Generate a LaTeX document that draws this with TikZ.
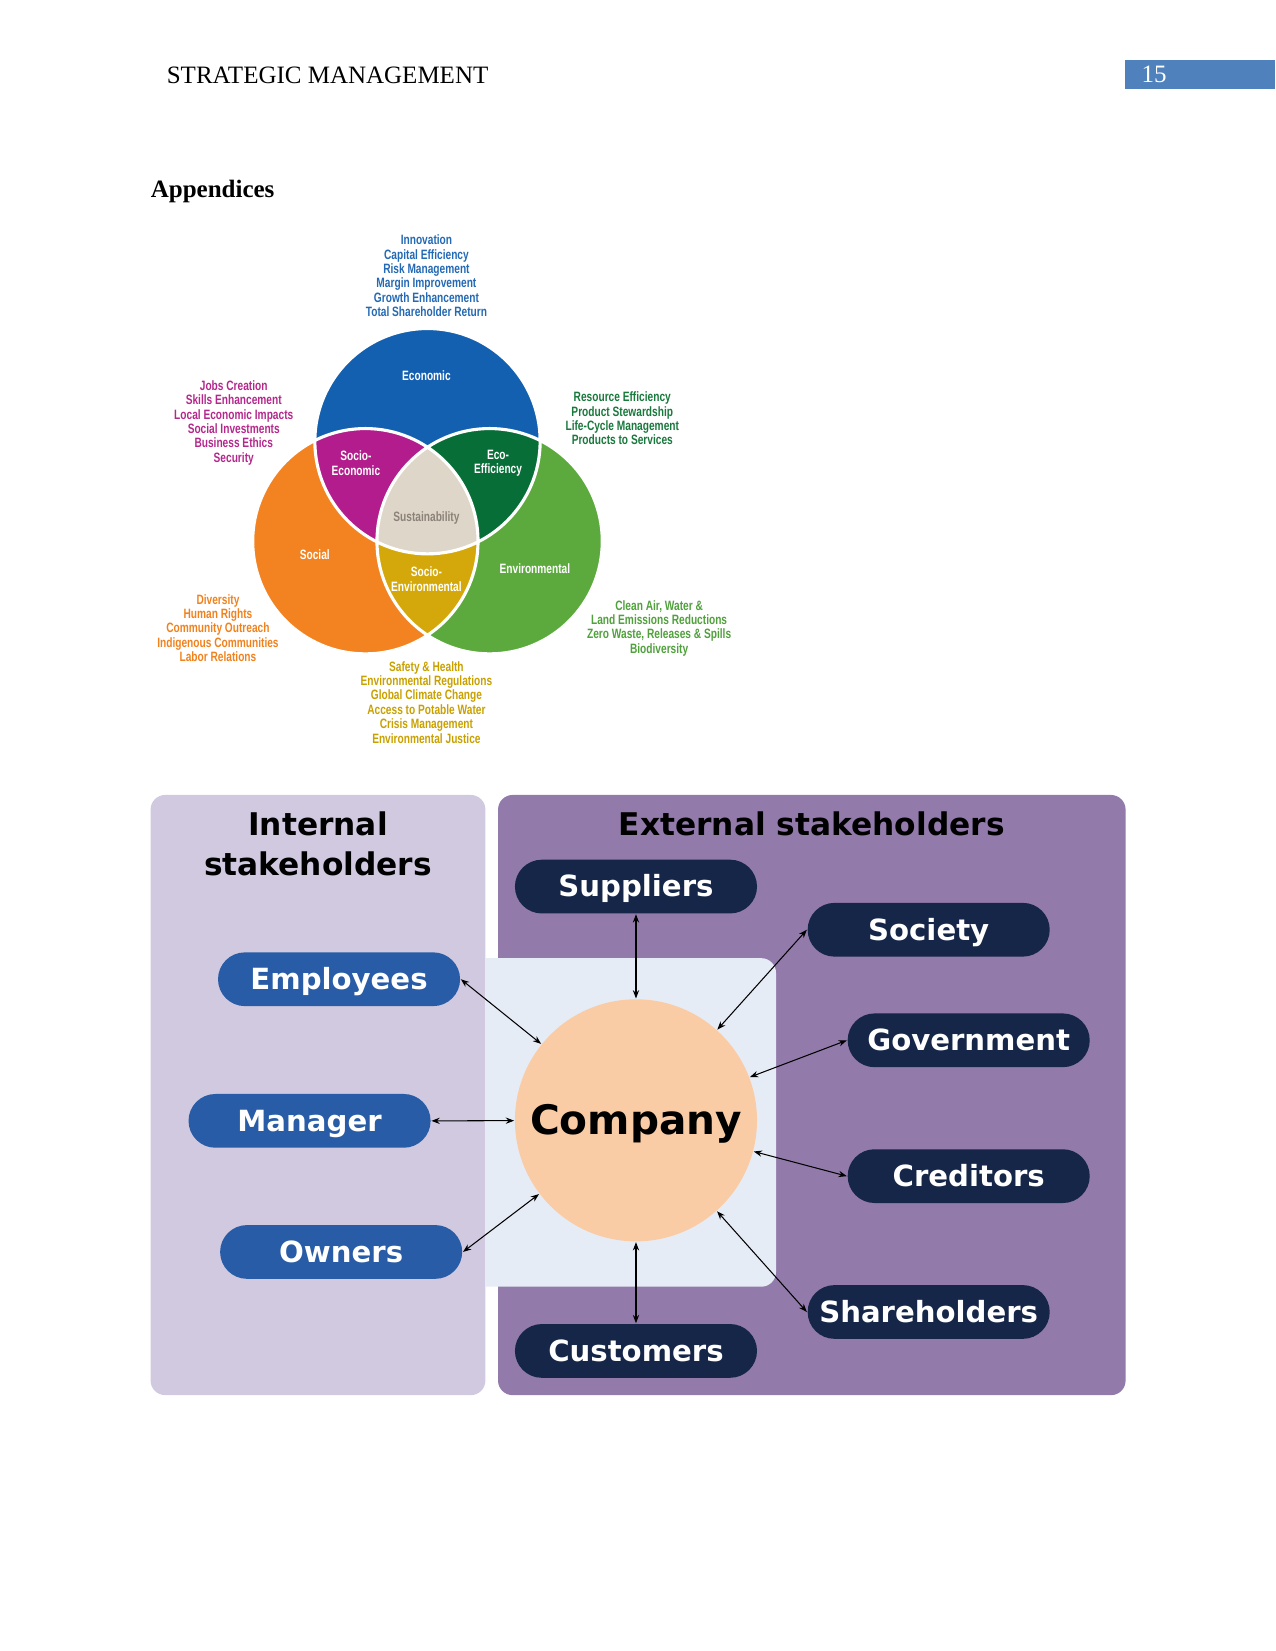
\documentclass[tikz,border=0pt]{standalone}
\usepackage{fontspec}
\setmainfont{Liberation Serif}
\newfontfamily\stakefont{DejaVu Sans}
\newfontfamily\vennfont[FakeStretch=0.75]{Liberation Sans}
\usetikzlibrary{arrows.meta}

\definecolor{hdrblue}{RGB}{79,129,189}
\definecolor{vblue}{RGB}{20,96,176}
\definecolor{vorange}{RGB}{243,130,32}
\definecolor{vgreen}{RGB}{92,170,62}
\definecolor{vpurple}{RGB}{178,28,140}
\definecolor{vdkgreen}{RGB}{8,110,55}
\definecolor{vmustard}{RGB}{212,168,10}
\definecolor{vbeige}{RGB}{222,214,200}
\definecolor{tblue}{RGB}{35,105,180}
\definecolor{tmagenta}{RGB}{180,40,140}
\definecolor{tdkgreen}{RGB}{25,120,60}
\definecolor{torange}{RGB}{240,130,30}
\definecolor{tgreen}{RGB}{80,160,60}
\definecolor{tmustard}{RGB}{200,160,0}
\definecolor{tgray}{RGB}{140,130,120}
\definecolor{inback}{RGB}{209,201,224}
\definecolor{exback}{RGB}{146,122,170}
\definecolor{lightback}{RGB}{230,236,245}
\definecolor{peach}{RGB}{250,204,166}
\definecolor{pillblue}{RGB}{40,92,166}
\definecolor{pillnavy}{RGB}{22,38,72}

\tikzset{every picture/.style={line width=0.75pt}}
\tikzset{
  vlist/.style={align=center, inner sep=0pt, font=\vennfont\bfseries\fontsize{6.5}{6.9}\selectfont},
  vlabel/.style={vlist, text=white},
  pillin/.style={fill=pillblue, rounded corners=12.9pt, minimum width=116.2pt, minimum height=25.8pt, inner sep=0pt, text height=10pt, text depth=0pt, text=white, font=\stakefont\bfseries\fontsize{14}{16}\selectfont},
  pillex/.style={pillin, fill=pillnavy},
  title/.style={align=center, inner sep=0pt, font=\stakefont\bfseries\fontsize{15}{19.2}\selectfont},
  link/.style={{Stealth[length=4pt,width=3pt]}-{Stealth[length=4pt,width=3pt]}, line width=0.5pt},
}

\begin{document}
\begin{tikzpicture}[x=0.5054pt,y=0.5054pt,yscale=-1,xscale=1]
        \useasboundingbox (0,0) rectangle (1211,1568);

        \fill[hdrblue] (1068.6,57) rectangle (1211,84.5);
        \draw (157.7,79.1) node (hdr) [anchor=base west][inner sep=0pt] [font=\fontsize{12}{14}\selectfont] {STRATEGIC MANAGEMENT};
        \draw (1083.5,78.6) node (pgnum) [anchor=base west][inner sep=0pt] [text=white, font=\fontsize{12}{14}\selectfont] {15};
        \draw (142.5,187.8) node (appx) [anchor=base west][inner sep=0pt] [font=\bfseries\fontsize{12}{14}\selectfont] {Appendices};

        % venn
        \fill[vblue] (406,419) circle[radius=107];
        \fill[vorange] (347,514) circle[radius=107];
        \fill[vgreen] (465,514) circle[radius=107];
        \begin{scope}
          \clip (347,514) circle[radius=107];
          \fill[vpurple] (406,419) circle[radius=107];
          \fill[vmustard] (465,514) circle[radius=107];
        \end{scope}
        \begin{scope}
          \clip (406,419) circle[radius=107];
          \fill[vdkgreen] (465,514) circle[radius=107];
          \clip (347,514) circle[radius=107];
          \fill[vbeige] (465,514) circle[radius=107];
        \end{scope}
        \draw[white, line width=1.5pt] (406,419) circle[radius=107] (347,514) circle[radius=107] (465,514) circle[radius=107];

        \draw (405,357) node (economic) [vlabel] {Economic};
        \draw (338,440) node (socioeco) [vlabel] {Socio-\\Economic};
        \draw (473,440) node (ecoeff) [vlabel] {Eco-\\Efficiency};
        \draw (405,492) node (sustain) [vlist, text=tgray] {Sustainability};
        \draw (299,527) node (social) [vlabel] {Social};
        \draw (405,550) node (socioenv) [vlabel] {Socio-\\Environmental};
        \draw (508,540) node (environ) [vlabel] {Environmental};

        \draw (405,262) node (ecolist) [vlist, text=tblue] {Innovation\\Capital Efficiency\\Risk Management\\Margin Improvement\\Growth Enhancement\\Total Shareholder Return};
        \draw (222,401.5) node (soclist) [vlist, text=tmagenta] {Jobs Creation\\Skills Enhancement\\Local Economic Impacts\\Social Investments\\Business Ethics\\Security};
        \draw (591,397.5) node (efflist) [vlist, text=tdkgreen] {Resource Efficiency\\Product Stewardship\\Life-Cycle Management\\Products to Services};
        \draw (207,596.5) node (sociallist) [vlist, text=torange] {Diversity\\Human Rights\\Community Outreach\\Indigenous Communities\\Labor Relations};
        \draw (626,596.5) node (envlist) [vlist, text=tgreen] {Clean Air, Water \&\\Land Emissions Reductions\\Zero Waste, Releases \& Spills\\Biodiversity};
        \draw (405,667) node (socenvlist) [vlist, text=tmustard] {Safety \& Health\\Environmental Regulations\\Global Climate Change\\Access to Potable Water\\Crisis Management\\Environmental Justice};

        % stakeholders
        \fill[inback, rounded corners=7pt] (143,755) rectangle (461,1325);
        \fill[exback, rounded corners=7pt] (473,755) rectangle (1069,1325);
        \fill[lightback] (461,910) -- (723,910) arc[start angle=-90,end angle=0,radius=14] -- (737,1208) arc[start angle=0,end angle=90,radius=14] -- (461,1222) -- cycle;

        \draw (302,801) node (intitle) [title] {Internal\\stakeholders};
        \draw (771,782) node (extitle) [title] {External stakeholders};

        \draw (604,1064) node (comp) [circle, fill=peach, minimum size=116.2pt, inner sep=0pt, text height=14pt, text depth=0pt, font=\stakefont\bfseries\fontsize{19.5}{22}\selectfont] {Company};

        \draw (322,930) node (emp) [pillin] {Employees};
        \draw (294,1064.5) node (man) [pillin] {Manager};
        \draw (324,1189) node (own) [pillin] {Owners};
        \draw (604,842) node (sup) [pillex] {Suppliers};
        \draw (882,883) node (soc) [pillex] {Society};
        \draw (920,988) node (gov) [pillex] {Government};
        \draw (920,1117) node (cre) [pillex] {Creditors};
        \draw (882,1246) node (sha) [pillex] {Shareholders};
        \draw (604,1283) node (cus) [pillex] {Customers};

        \draw[link] (emp.east) -- (comp);
        \draw[link] (man.east) -- (comp);
        \draw[link] (own.east) -- (comp);
        \draw[link] (sup.south) -- (comp);
        \draw[link] (soc.west) -- (comp);
        \draw[link] (gov.west) -- (comp);
        \draw[link] (cre.west) -- (comp);
        \draw[link] (sha.west) -- (comp);
        \draw[link] (cus.north) -- (comp);
\end{tikzpicture}
\end{document}
